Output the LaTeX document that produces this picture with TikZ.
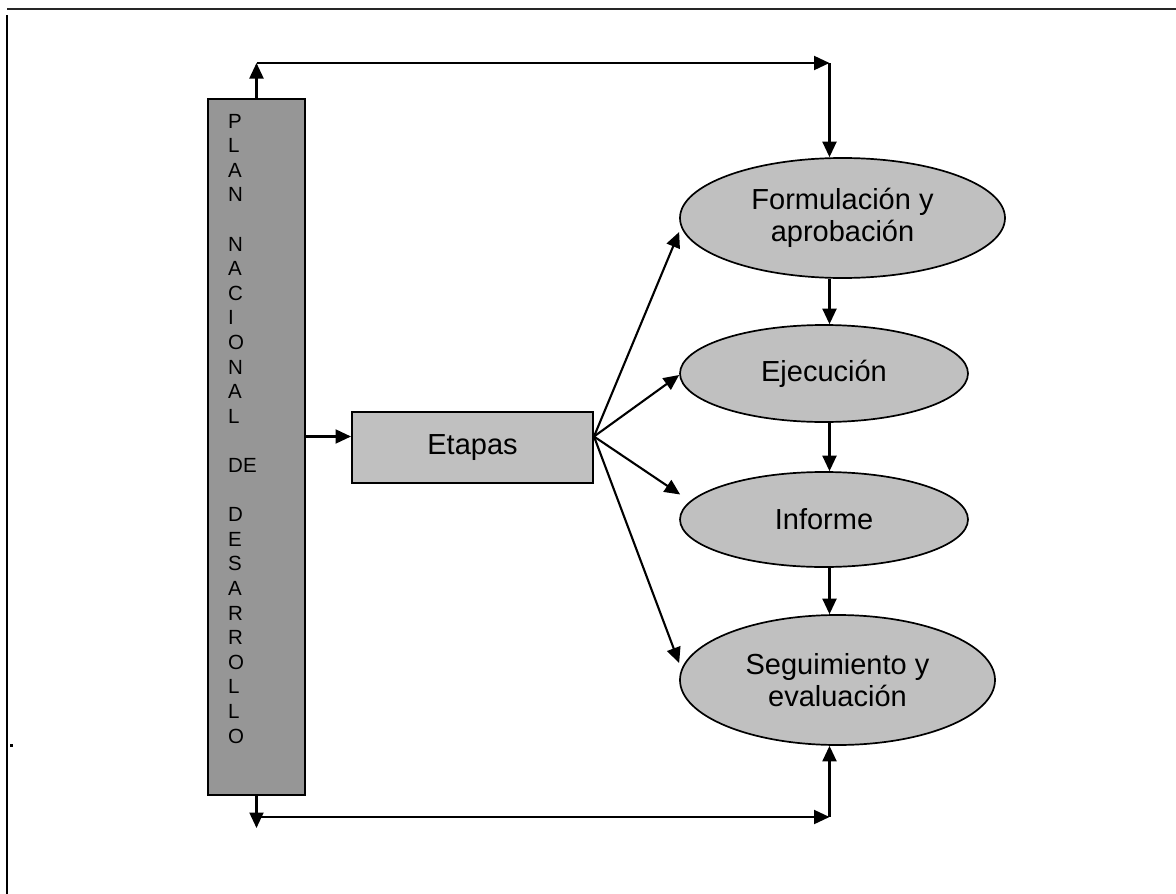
\documentclass[tikz,border=0pt]{standalone}
\usepackage{fontspec}
\setmainfont{Liberation Sans}
\usetikzlibrary{arrows.meta,shapes.geometric,calc}
\definecolor{plangray}{RGB}{150,150,150}
\definecolor{stagegray}{RGB}{192,192,192}
\begin{document}
\begin{tikzpicture}[x=1pt,y=-1pt,
  conn/.style={line width=2.1pt, -{Triangle[length=15.5pt,width=14pt]}},
  stage/.style={ellipse, draw, line width=1.7pt, fill=stagegray, inner sep=0pt,
    align=center, font=\fontsize{29}{32.5}\selectfont},
  letter/.style={anchor=base west, inner sep=0pt, font=\fontsize{20.5}{24}\selectfont}]
\useasboundingbox (0,0) rectangle (1176,894);

% page frame
\draw[line width=2.3pt, black!85] (7,9.3) -- (1176,9.3);
\draw[line width=2.2pt] (6.8,15) -- (6.8,894);
\fill (9.5,743.5) rectangle (12.5,746.5);

% vertical plan column
\node[draw, line width=2pt, fill=plangray, minimum width=97pt, minimum height=696pt,
  inner sep=0pt] (plan) at (256.5,447) {};
\foreach \t [count=\i from 0] in {P,L,A,N,{},N,A,C,I,O,N,A,L,{},DE,{},D,E,S,A,R,R,O,L,L,O}
  \node[letter] (ch\i) at (228,128+24.6*\i) {\t};

% stages box
\node[draw, line width=2pt, fill=stagegray, minimum width=241pt, minimum height=71pt,
  inner sep=0pt, font=\fontsize{29}{32.5}\selectfont] (etapas) at (472.5,447.5) {Etapas};

% stage ellipses
\node[stage, minimum width=325pt, minimum height=120pt] (form) at (842.5,218) {Formulación y\\aprobación};
\node[stage, minimum width=288pt, minimum height=97pt] (ejec) at (824,373.5) {Ejecución};
\node[stage, minimum width=288pt, minimum height=95pt] (info) at (824,519.5) {Informe};
\node[stage, minimum width=315pt, minimum height=130pt] (segu) at (837.5,680) {Seguimiento y\\evaluación};

% helper points
\coordinate (fan) at ($(etapas.east)+(0,-11)$);
\coordinate (col) at (829.5,0);
\coordinate (tl) at (plan.north |- 0,63);
\coordinate (tr) at (col |- tl);
\coordinate (bl) at (plan.south |- 0,817);
\coordinate (blt) at (plan.south |- 0,828);
\coordinate (br) at (col |- bl);

% plan to stages
\draw[conn] (plan.east |- fan) -- (etapas.west |- fan);

% fan towards each stage
\draw[conn] (fan) -- ($(form.west)+(0,14)$);
\draw[conn] (fan) -- ($(ejec.west)+(0,1.5)$);
\draw[conn] (fan) -- ($(info.west)+(1,-25)$);
\draw[conn] (fan) -- ($(segu.west)+(0,-17)$);

% chain between stages
\draw[conn] (col |- form.south) -- (col |- ejec.north);
\draw[conn] (col |- ejec.south) -- (col |- info.north);
\draw[conn] (col |- info.south) -- (col |- segu.north);

% upper feedback loop
\draw[conn] (plan.north) -- (tl);
\draw[conn] (tl) -- (tr);
\draw[conn] (tr) -- (col |- form.north);

% lower feedback loop
\draw[conn] (plan.south) -- (blt);
\draw[conn] (bl) -- (br);
\draw[conn] (br) -- (col |- segu.south);
\end{tikzpicture}
\end{document}
